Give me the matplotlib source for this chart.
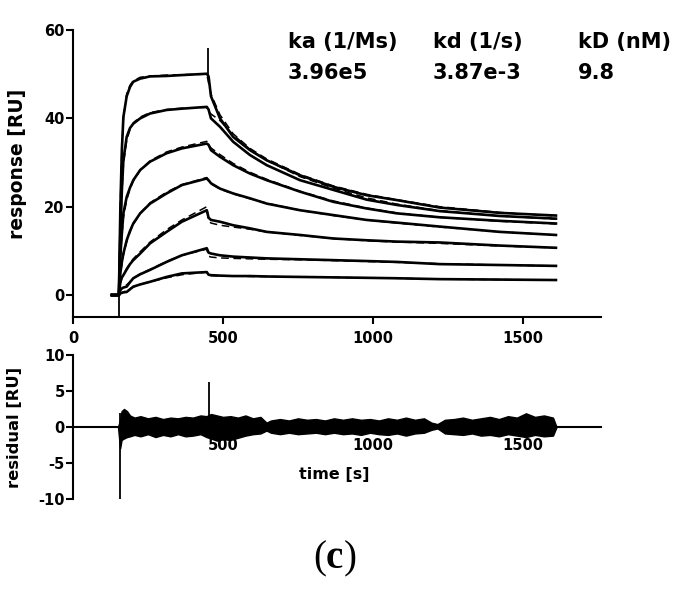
import matplotlib
matplotlib.use("Agg")
import matplotlib.pyplot as plt

# === DATA ===
time_s = [130, 153, 158, 163, 168, 179, 190, 201, 224, 257, 312, 363, 446,
          452, 460, 490, 534, 590, 646, 757, 868, 979, 1079, 1223, 1423, 1610]

resp_1 = [0, 0, 20, 33, 40.3, 45, 47.1, 48.3, 49.0, 49.5, 49.6, 49.8, 50.1,
          49.5, 45, 40, 35.8, 32.8, 30.5, 27.1, 24.5, 22.6, 21.5, 19.8, 18.6, 18.0]
resp_2 = [0, 0, 14, 23.8, 30.5, 35.8, 37.8, 38.8, 40.0, 41.1, 41.9, 42.2, 42.6,
          42.0, 40.0, 38.1, 34.7, 31.7, 29.4, 26.0, 23.8, 21.6, 20.4, 19.0, 17.9, 17.3]
resp_3 = [0, 0, 9, 14, 18.5, 22.2, 24.3, 26.0, 28.3, 30.2, 32.1, 33.2, 34.3,
          34.0, 32.8, 31.3, 29.4, 27.5, 26.0, 23.4, 21.1, 19.6, 18.5, 17.6, 16.8, 16.2]
resp_4 = [0, 0, 5, 7.5, 9.4, 12.4, 14.5, 16.2, 18.5, 20.7, 23.0, 24.9, 26.4,
          26.0, 25.3, 24.1, 23.0, 21.9, 20.7, 19.2, 18.1, 17.0, 16.4, 15.5, 14.3, 13.6]
resp_5 = [0, 0, 3, 4, 4.5, 5.8, 7.0, 7.9, 9.4, 11.7, 14.3, 16.6, 19.2,
          17.5, 17.0, 16.6, 15.8, 15.1, 14.3, 13.6, 12.8, 12.4, 12.1, 11.9, 11.2, 10.7]
resp_6 = [0, 0, 1.2, 1.5, 1.7, 1.9, 2.9, 3.8, 4.7, 5.7, 7.5, 9.0, 10.6,
          9.6, 9.4, 9.0, 8.7, 8.5, 8.3, 8.1, 7.9, 7.7, 7.5, 7.0, 6.8, 6.6]
resp_7 = [0, 0, 0.4, 0.5, 0.6, 0.7, 1.3, 1.9, 2.4, 3.0, 4.1, 4.9, 5.2,
          4.6, 4.5, 4.4, 4.3, 4.3, 4.2, 4.1, 4.0, 3.9, 3.8, 3.6, 3.5, 3.4]

fit_1 = [0, 0, 21, 33, 40, 45.5, 47.5, 48.5, 49.3, 49.6, 49.8, 49.9, 50.0,
         48.0, 45.5, 40.8, 36.5, 33.2, 30.8, 27.3, 24.7, 22.8, 21.6, 20.0, 18.7, 17.9]
fit_2 = [0, 0, 14, 23, 29.5, 35, 37.5, 39, 40.3, 41.3, 42.0, 42.3, 42.5,
         41.5, 41.0, 39.5, 36.3, 33.0, 30.5, 26.8, 24.2, 22.0, 20.6, 19.1, 17.9, 17.2]
fit_3 = [0, 0, 8.5, 13.5, 17.5, 21.5, 24.0, 25.8, 28.3, 30.4, 32.4, 33.5, 34.8,
         34.0, 33.3, 31.8, 29.8, 27.8, 26.2, 23.5, 21.3, 19.7, 18.6, 17.6, 16.7, 16.1]
fit_4 = [0, 0, 4.5, 7, 9.0, 12.0, 14.2, 16.0, 18.5, 20.9, 23.3, 25.0, 26.6,
         25.8, 25.2, 24.0, 22.9, 21.8, 20.8, 19.2, 18.0, 17.0, 16.3, 15.4, 14.3, 13.6]
fit_5 = [0, 0, 2.5, 3.8, 4.6, 6.0, 7.2, 8.2, 9.8, 12.0, 14.8, 17.0, 20.0,
         16.8, 16.3, 15.8, 15.4, 14.9, 14.3, 13.5, 12.8, 12.3, 12.0, 11.7, 11.1, 10.7]
fit_6 = [0, 0, 1.0, 1.4, 1.8, 2.3, 3.0, 3.8, 4.8, 5.8, 7.6, 9.0, 10.4,
         8.8, 8.6, 8.4, 8.3, 8.2, 8.1, 8.0, 7.8, 7.6, 7.4, 7.1, 6.8, 6.6]
fit_7 = [0, 0, 0.3, 0.5, 0.7, 1.0, 1.4, 1.8, 2.4, 3.0, 3.9, 4.6, 5.2,
         4.4, 4.4, 4.3, 4.3, 4.2, 4.2, 4.1, 4.0, 3.9, 3.8, 3.6, 3.5, 3.4]

# injection / wash spikes in the sensorgram
spike_t = [155, 451]
spike_lo = [-6, 49]
spike_hi = [0, 56]

# residual band (upper / lower envelope of the overlaid residual traces)
res_t = [150, 157, 162, 170, 180, 190, 205, 225, 250, 275, 300, 325, 350, 375,
         400, 425, 445, 460, 480, 500, 525, 550, 575, 600, 625, 645, 660, 690,
         720, 750, 780, 810, 840, 870, 900, 930, 960, 990, 1020, 1050, 1080,
         1110, 1140, 1170, 1195, 1215, 1240, 1270, 1300, 1330, 1360, 1390,
         1420, 1450, 1480, 1510, 1540, 1570, 1600, 1612]
res_upper = [0, 1.0, 2.2, 2.5, 2.2, 1.6, 1.3, 1.5, 1.2, 1.4, 1.1, 1.3, 1.2, 1.4,
             1.3, 1.6, 1.5, 1.8, 1.6, 1.4, 1.5, 1.3, 1.6, 1.2, 1.4, 0.6, 0.9, 1.1,
             0.9, 1.2, 1.0, 1.1, 0.9, 1.2, 1.0, 1.2, 1.0, 1.1, 0.9, 1.2, 1.0,
             1.3, 1.0, 1.2, 0.6, 0.4, 1.0, 1.1, 1.3, 1.0, 1.2, 1.4,
             1.1, 1.5, 1.3, 1.9, 1.4, 1.6, 1.3, 0]
res_lower = [0, -3.0, -1.8, -1.6, -1.4, -1.3, -1.1, -1.3, -1.0, -1.4, -1.1, -1.3, -1.0, -1.3,
             -1.2, -1.0, -1.4, -1.6, -1.9, -1.7, -1.8, -1.5, -1.2, -1.0, -0.9, -0.5, -0.8, -1.0,
             -0.8, -1.0, -0.9, -0.8, -1.0, -0.8, -1.0, -0.9, -1.1, -0.8, -1.0, -1.1, -0.9,
             -1.2, -0.9, -0.8, -0.4, -0.2, -0.9, -1.0, -1.1, -0.9, -1.2, -1.1,
             -1.3, -1.0, -1.2, -1.4, -1.1, -1.3, -1.2, 0]
res_spike_t = [157, 452]
res_spike_lo = [-10, 0]
res_spike_hi = [2, 6.2]

headers = ["ka (1/Ms)", "kd (1/s)", "kD (nM)"]
values = ["3.96e5", "3.87e-3", "9.8"]

# === STYLE ===
plt.rcParams['font.family'] = 'DejaVu Sans'
plt.rcParams['font.weight'] = 'bold'
plt.rcParams['axes.labelweight'] = 'bold'
plt.rcParams['axes.unicode_minus'] = False
plt.rcParams['mathtext.fontset'] = 'custom'
plt.rcParams['mathtext.rm'] = 'Liberation Serif'
plt.rcParams['mathtext.bf'] = 'Liberation Serif:bold'

fig = plt.figure(figsize=(6.84, 5.97), dpi=100)

# --- sensorgram ---
ax_top = fig.add_axes([0.1067, 0.4688, 0.7719, 0.4809])
responses = [resp_1, resp_2, resp_3, resp_4, resp_5, resp_6, resp_7]
fits = [fit_1, fit_2, fit_3, fit_4, fit_5, fit_6, fit_7]
for r in responses:
    ax_top.plot(time_s, r, color='black', lw=1.9)
for f in fits:
    ax_top.plot(time_s[1:], f[1:], color='black', lw=1.1, dashes=(5, 3))
ax_top.vlines(spike_t, spike_lo, spike_hi, color='black', lw=1.3)

ax_top.set_xlim(0, 1760)
ax_top.set_ylim(-5, 60)
ax_top.set_xticks([0, 500, 1000, 1500])
ax_top.set_yticks([0, 20, 40, 60])
for s in ['top', 'right']:
    ax_top.spines[s].set_visible(False)
for s in ['left', 'bottom']:
    ax_top.spines[s].set_linewidth(1.5)
ax_top.tick_params(direction='out', length=5, width=1.5, labelsize=10.5)
ax_top.tick_params(axis='x', pad=5)
ax_top.tick_params(axis='y', pad=1)
ax_top.set_ylabel("response [RU]", fontsize=13.5)
ax_top.yaxis.set_label_coords(-0.087, 0.533)

# --- residuals ---
ax_res = fig.add_axes([0.1067, 0.1642, 0.7719, 0.2412])
ax_res.fill_between(res_t, res_lower, res_upper, color='black', lw=1.0)
ax_res.vlines(res_spike_t, res_spike_lo, res_spike_hi, color='black', lw=1.3)
ax_res.set_xlim(0, 1760)
ax_res.set_ylim(-10, 10)
ax_res.set_xticks([500, 1000, 1500])
ax_res.set_yticks([-10, -5, 0, 5, 10])
for s in ['top', 'right']:
    ax_res.spines[s].set_visible(False)
ax_res.spines['bottom'].set_position(('data', 0))
for s in ['left', 'bottom']:
    ax_res.spines[s].set_linewidth(1.5)
ax_res.tick_params(direction='out', length=5, width=1.5, labelsize=10.5)
ax_res.tick_params(axis='x', length=0, pad=8)
ax_res.tick_params(axis='y', pad=1)
ax_res.set_ylabel("residual [RU]", fontsize=11.8)
ax_res.yaxis.set_label_coords(-0.096, 0.5)
ax_res.set_xlabel("time [s]", fontsize=11.5, va='center')
ax_res.xaxis.set_label_coords(0.495, 0.167)

# --- rate constants ---
for i, (h, v) in enumerate(zip(headers, values)):
    x = [0.421, 0.633, 0.845][i]
    fig.text(x, 0.930, h, fontsize=15, ha='left', va='center')
    fig.text(x, 0.878, v, fontsize=15, ha='left', va='center')

fig.text(0.4898, 0.0637, r"($\mathbf{c}$)", fontsize=28, family='Liberation Serif',
         fontweight='normal', ha='center', va='center')

fig.savefig("out.png", dpi=100)
